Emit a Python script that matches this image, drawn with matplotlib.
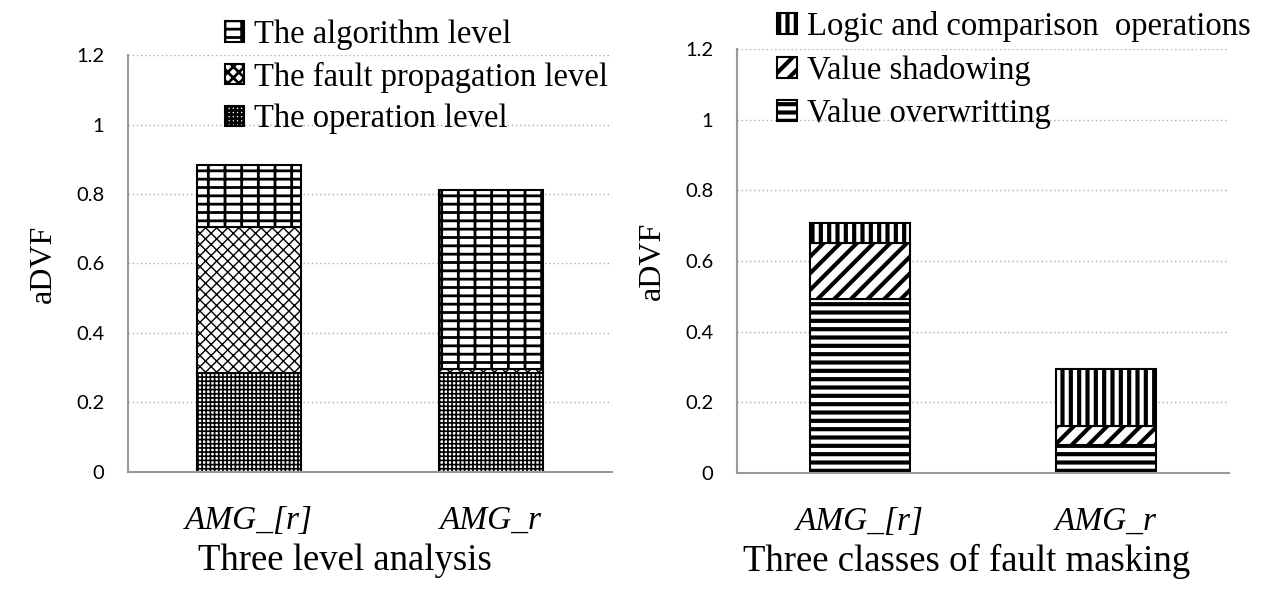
import matplotlib
matplotlib.use("Agg")
import matplotlib.pyplot as plt

# data
categories = ["AMG_[r]", "AMG_r"]

# left panel: three level analysis
operation = [0.285, 0.285]
propagation = [0.42, 0.011]
algorithm = [0.178, 0.515]
left_labels = ["The operation level", "The fault propagation level", "The algorithm level"]

# right panel: three classes of fault masking
overwriting = [0.492, 0.079]
shadowing = [0.159, 0.054]
logic = [0.056, 0.161]
right_labels = ["Value overwritting", "Value shadowing", "Logic and comparison  operations"]

yticks = [0, 0.2, 0.4, 0.6, 0.8, 1, 1.2]
ytick_labels = ["0", "0.2", "0.4", "0.6", "0.8", "1", "1.2"]

serif = "Liberation Serif"
sans = "Lato"

fig = plt.figure(figsize=(12.65, 5.94), dpi=100)
ax1 = fig.add_axes([0.1012, 0.2054, 0.3826, 0.702])
ax2 = fig.add_axes([0.5826, 0.2037, 0.3889, 0.7138])


def style_axes(ax, xlabel, xlab_pos, xlab_y):
    ax.set_ylim(0, 1.2)
    ax.set_xlim(-0.5, 1.5)
    ax.set_yticks(yticks)
    ax.set_yticklabels(ytick_labels, fontfamily=sans, fontsize=14.5)
    ax.set_xticks(range(len(categories)))
    ax.set_xticklabels(categories, fontfamily=serif, fontstyle="italic", fontsize=24)
    ax.tick_params(axis="both", length=0)
    ax.tick_params(axis="y", pad=17)
    ax.tick_params(axis="x", pad=24)
    ax.grid(axis="y", linestyle=(0, (1, 2)), color="#aaaaaa", linewidth=1)
    ax.set_axisbelow(True)
    for s in ["top", "right"]:
        ax.spines[s].set_visible(False)
    ax.spines["left"].set_color("#999999")
    ax.spines["bottom"].set_color("#999999")
    ax.spines["left"].set_linewidth(1.5)
    ax.spines["bottom"].set_linewidth(1.5)
    ax.set_xlabel(xlabel, fontfamily=serif, fontsize=26.5)
    ax.xaxis.set_label_coords(xlab_pos, xlab_y)
    ax.set_ylabel("aDVF", fontfamily=serif, fontsize=23, labelpad=13)


x = range(len(categories))

# left panel
plt.rcParams["hatch.linewidth"] = 1.2
b1 = ax1.bar(x, operation, width=0.43, color="white", edgecolor="black", hatch="++++", linewidth=1.5)
bot = [a + b for a, b in zip(operation, propagation)]
plt.rcParams["hatch.linewidth"] = 1.0
b2 = ax1.bar(x, propagation, width=0.43, bottom=operation, color="white", edgecolor="black", hatch="xxx", linewidth=1.5)
plt.rcParams["hatch.linewidth"] = 2.0
b3 = ax1.bar(x, algorithm, width=0.43, bottom=bot, color="white", edgecolor="black", hatch="--|", linewidth=1.5)
style_axes(ax1, "Three level analysis", 0.448, -0.172)

fig.legend([b3, b2, b1], left_labels[::-1], loc="upper left", bbox_to_anchor=(0.162, 1.0),
           frameon=False, prop={"family": serif, "size": 23.5}, handlelength=0.6, handleheight=0.6,
           handletextpad=0.3, labelspacing=0.35, borderaxespad=0.2)

# right panel
plt.rcParams["hatch.linewidth"] = 3.0
c1 = ax2.bar(x, overwriting, width=0.41, color="white", edgecolor="black", hatch="--", linewidth=1.5)
bot2 = [a + b for a, b in zip(overwriting, shadowing)]
c2 = ax2.bar(x, shadowing, width=0.41, bottom=overwriting, color="white", edgecolor="black", hatch="//", linewidth=1.5)
c3 = ax2.bar(x, logic, width=0.41, bottom=bot2, color="white", edgecolor="black", hatch="||", linewidth=1.5)
style_axes(ax2, "Three classes of fault masking", 0.467, -0.168)

fig.legend([c3, c2, c1], right_labels[::-1], loc="upper left", bbox_to_anchor=(0.599, 1.015),
           frameon=False, prop={"family": serif, "size": 23.5}, handlelength=0.6, handleheight=0.6,
           handletextpad=0.3, labelspacing=0.4, borderaxespad=0.2)

fig.savefig("out.png", dpi=100)
